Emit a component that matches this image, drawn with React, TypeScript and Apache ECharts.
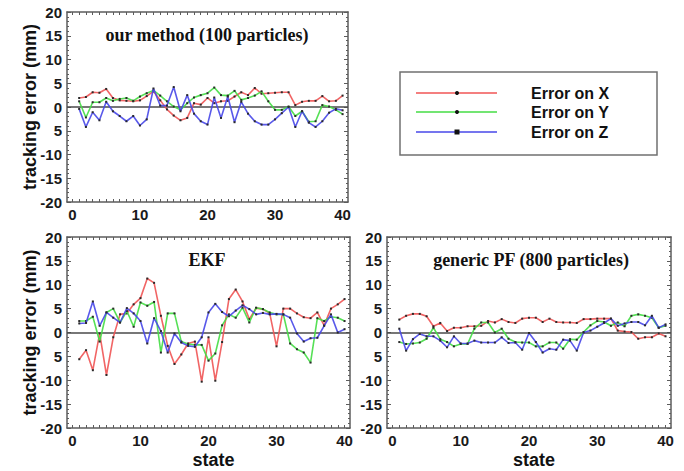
import React, { useEffect, useRef } from "react";
import * as echarts from "echarts";

// State indices along the horizontal axis
const STATES = [
  1, 2, 3, 4, 5, 6, 7, 8, 9, 10, 11, 12, 13, 14, 15, 16, 17, 18, 19, 20,
  21, 22, 23, 24, 25, 26, 27, 28, 29, 30, 31, 32, 33, 34, 35, 36, 37, 38, 39, 40,
];

const SERIES_NAMES = ["Error on X", "Error on Y", "Error on Z"];
const PANEL_TITLES = ["our method (100 particles)", "EKF", "generic PF (800 particles)"];
const X_LABEL_VALUES = [0, 10, 20, 30, 40];
const Y_AXIS_NAME = "tracking error (mm)";
const X_AXIS_NAME = "state";

// Tracking errors (mm), our method with 100 particles
const OURS_X = [
  1.9, 2.1, 3.1, 3.0, 3.8, 1.9, 1.4, 1.3, 1.2, 1.4,
  2.3, 3.3, 1.4, -0.5, -1.8, -2.8, -2.3, 0.8, 0.5, 1.9,
  0.8, 1.2, 1.3, 2.2, 3.1, 2.5, 4.0, 2.8, 2.9, 3.0,
  3.1, 3.1, 0.4, 1.1, 1.3, 1.3, 2.3, 1.2, 1.3, 2.4,
];
const OURS_Y = [
  1.2, -2.2, 1.0, 1.0, 1.9, 1.3, 1.7, 1.9, 1.3, 2.2,
  2.9, 3.5, 2.4, 1.2, 0.1, -0.6, 0.8, 2.0, 2.5, 2.9,
  4.1, 2.5, 2.4, 3.4, 1.5, 1.9, 2.4, 3.3, 1.2, -0.6,
  -0.6, 0.1, -1.9, -0.9, -3.1, -3.0, 0.4, 0.1, -0.6, -1.5,
];
const OURS_Z = [
  -0.4, -4.2, -1.1, -2.8, 1.1, -0.9, -1.9, -3.0, -1.9, -3.9,
  -2.6, 3.9, 0.3, 0.3, 4.2, -0.9, 2.5, -1.4, -3.0, -3.7,
  2.0, -2.3, 2.2, -3.2, 1.1, -1.4, -3.0, -3.7, -3.7, -2.6,
  -1.3, 0.0, -4.2, -0.9, -3.3, -4.2, -3.0, -1.2, -0.4, -0.7,
];

// Tracking errors (mm), EKF
const EKF_X = [
  -5.6, -3.7, -7.9, -0.2, -8.9, -1.0, 3.8, 4.0, 5.9, 7.2,
  11.3, 10.4, 3.5, -2.8, -6.6, -4.6, -2.3, -1.9, -10.3, -1.0,
  -10.1, -2.0, 7.0, 9.0, 6.5, 2.8, 5.1, 4.9, 4.0, -2.9,
  5.0, 5.0, 4.0, 3.2, 3.0, 4.2, 1.5, 5.0, 5.9, 7.0,
];
const EKF_Y = [
  2.4, 2.4, 3.3, -1.9, 4.2, 5.0, 2.1, 4.5, 1.2, 6.3,
  5.6, 6.4, -4.2, 4.0, 4.0, -1.9, -2.4, -2.6, -2.6, -5.9,
  -4.4, 1.5, 3.8, 3.1, 5.2, 2.1, 5.2, 4.9, 4.2, 3.8,
  3.8, -2.3, -3.5, -4.2, -6.3, 3.0, 2.4, 3.3, 3.1, 2.4,
];
const EKF_Z = [
  1.9, 2.0, 6.5, 1.4, 4.2, 3.1, 2.1, 5.1, 4.0, 2.4,
  -2.3, 3.0, 0.3, -4.2, -0.2, -2.1, -2.8, -3.0, -1.0, 4.2,
  6.0, 4.3, 3.4, 4.6, 5.7, 4.9, 3.8, 4.1, 3.8, 3.9,
  3.8, 3.1, -0.2, -1.9, -1.2, -1.1, 1.4, 3.8, 0.0, 0.7,
];

// Tracking errors (mm), generic PF with 800 particles
const PF_X = [
  2.7, 3.5, 3.9, 3.9, 3.4, 1.3, 2.0, 0.3, 1.0, 1.0,
  1.3, 1.3, 1.4, 2.4, 2.1, 2.8, 2.2, 2.0, 2.9, 3.1,
  3.1, 2.2, 2.9, 2.2, 2.1, 2.1, 2.0, 2.8, 2.8, 2.9,
  2.9, 2.9, 0.4, 0.2, 0.1, -1.3, -1.0, -1.0, -0.2, -0.8,
];
const PF_Y = [
  -2.0, -2.4, -2.3, -2.1, -1.3, 1.0, -1.4, -2.0, -2.9, -2.4,
  -2.4, 0.8, 2.1, 2.1, 0.0, 0.8, -1.3, -2.0, -2.1, -2.1,
  -2.9, -2.9, -2.1, -2.1, -3.4, -1.4, -1.5, 0.1, 1.5, 2.4,
  2.2, 1.4, 2.1, 1.3, 3.5, 3.8, 3.5, 3.1, 1.0, 1.4,
];
const PF_Z = [
  0.8, -3.8, -1.4, -0.3, -0.8, -0.8, -1.7, -3.1, -0.8, -2.3,
  -2.3, -1.7, -2.1, -2.1, -2.1, -1.0, -2.2, -2.1, -3.6, -0.1,
  -2.0, -4.2, -3.4, -3.6, -1.5, -1.7, -3.8, 0.0, 0.4, 1.2,
  2.0, 2.9, 1.4, 1.9, 2.2, 2.2, 1.5, 3.5, 1.0, 1.7,
];

const LINE_COLORS = ["#f05454", "#44dd44", "#4747e8"];
const FRAME = "#5c5c5c";
const SANS = "'Liberation Sans', Arial, sans-serif";
const SERIF = "'Liberation Serif', 'Times New Roman', serif";

const PANELS = [
  { grid: { left: 67, top: 12, width: 281, height: 190 }, title: PANEL_TITLES[0], titlePos: [207, 35], data: [OURS_X, OURS_Y, OURS_Z], yName: true, xName: false },
  { grid: { left: 67, top: 237, width: 283, height: 191 }, title: PANEL_TITLES[1], titlePos: [207, 260], data: [EKF_X, EKF_Y, EKF_Z], yName: true, xName: true },
  { grid: { left: 387, top: 237, width: 284, height: 191 }, title: PANEL_TITLES[2], titlePos: [531, 260], data: [PF_X, PF_Y, PF_Z], yName: false, xName: true },
];

const X_MIN = -0.8;
const X_MAX = 40.8;
const X_TICKS = [0, ...STATES];

function yLabel(v: number): string {
  return v === -5 ? "5" : String(v);
}

function buildOption() {
  const grid: any[] = [];
  const xAxis: any[] = [];
  const yAxis: any[] = [];
  const series: any[] = [];
  const graphic: any[] = [];

  PANELS.forEach((p, g) => {
    grid.push({ ...p.grid, show: false });
    const tickStyle = { color: FRAME, width: 1 };
    const lineStyle = { color: FRAME, width: 1.5 };
    xAxis.push({
      type: "value", gridIndex: g, position: "bottom", min: X_MIN, max: X_MAX,
      axisLine: { show: true, onZero: false, lineStyle },
      axisTick: { show: true, inside: true, length: 3, customValues: X_TICKS, lineStyle: tickStyle },
      axisLabel: { show: true, customValues: X_LABEL_VALUES, margin: 5, fontSize: 15, fontWeight: "bold", fontFamily: SANS, color: "#1a1a1a" },
      splitLine: { show: false },
    });
    xAxis.push({
      type: "value", gridIndex: g, position: "top", min: X_MIN, max: X_MAX,
      axisLine: { show: true, onZero: false, lineStyle },
      axisTick: { show: true, inside: true, length: 3, customValues: X_TICKS, lineStyle: tickStyle },
      axisLabel: { show: false },
      splitLine: { show: false },
    });
    yAxis.push({
      type: "value", gridIndex: g, position: "left", min: -20, max: 20, interval: 5,
      axisLine: { show: true, onZero: false, lineStyle },
      axisTick: { show: true, inside: true, length: 4, lineStyle: tickStyle },
      minorTick: { show: true, splitNumber: 5, length: 2, lineStyle: tickStyle },
      axisLabel: { show: true, margin: 5, fontSize: 15, fontWeight: "bold", fontFamily: SANS, color: "#1a1a1a", formatter: yLabel },
      splitLine: { show: false },
    });
    yAxis.push({
      type: "value", gridIndex: g, position: "right", min: -20, max: 20, interval: 5,
      axisLine: { show: true, onZero: false, lineStyle },
      axisTick: { show: true, inside: true, length: 4, lineStyle: tickStyle },
      minorTick: { show: true, splitNumber: 5, length: 2, lineStyle: tickStyle },
      axisLabel: { show: false },
      splitLine: { show: false },
    });

    p.data.forEach((vals, k) => {
      const s: any = {
        type: "line",
        name: SERIES_NAMES[k],
        xAxisIndex: g * 2,
        yAxisIndex: g * 2,
        data: STATES.map((st, i) => [st, vals[i]]),
        symbol: "rect",
        symbolSize: 2,
        showSymbol: true,
        itemStyle: { color: "#2a2a2a" },
        lineStyle: { color: LINE_COLORS[k], width: 1.6, opacity: 0.9 },
        z: 2 + k,
      };
      if (k === 0) {
        s.markLine = {
          silent: true,
          symbol: "none",
          label: { show: false },
          lineStyle: { color: "#4a4a4a", width: 1.5, type: "solid" },
          data: [{ yAxis: 0 }],
          z: 1,
        };
      }
      series.push(s);
    });

    graphic.push({
      type: "text", x: p.titlePos[0], y: p.titlePos[1],
      style: {
        text: p.title, fill: "#111", fontSize: 18, fontWeight: "bold", fontFamily: SERIF,
        align: "center", verticalAlign: "middle", textAlign: "center", textVerticalAlign: "middle",
      },
    });
    if (p.yName) {
      graphic.push({
        type: "text", x: 30, y: p.grid.top + p.grid.height / 2, rotation: Math.PI / 2,
        style: {
          text: Y_AXIS_NAME, fill: "#111", fontSize: 18, fontWeight: "bold", fontFamily: SANS,
          align: "center", verticalAlign: "middle", textAlign: "center", textVerticalAlign: "middle",
        },
      });
    }
    if (p.xName) {
      graphic.push({
        type: "text", x: p.grid.left + p.grid.width / 2 + 5, y: 460,
        style: {
          text: X_AXIS_NAME, fill: "#111", fontSize: 18, fontWeight: "bold", fontFamily: SANS,
          align: "center", verticalAlign: "middle", textAlign: "center", textVerticalAlign: "middle",
        },
      });
    }
  });

  // Legend box
  const box = { x: 400, y: 72, w: 257, h: 83 };
  graphic.push({
    type: "rect",
    shape: { x: box.x, y: box.y, width: box.w, height: box.h },
    style: { fill: "#fff", stroke: "#707070", lineWidth: 1.5 },
  });
  const rows = [93, 112, 132];
  SERIES_NAMES.forEach((name, k) => {
    const y = rows[k];
    graphic.push({
      type: "line",
      shape: { x1: 416, y1: y, x2: 497, y2: y },
      style: { stroke: LINE_COLORS[k], lineWidth: 1.5 },
    });
    if (k < 2) {
      graphic.push({ type: "circle", shape: { cx: 457, cy: y, r: 2 }, style: { fill: "#111" } });
    } else {
      graphic.push({ type: "rect", shape: { x: 454.5, y: y - 2.5, width: 5, height: 5 }, style: { fill: "#111" } });
    }
    graphic.push({
      type: "text", x: 531, y,
      style: {
        text: name, fill: "#111", fontSize: 16, fontWeight: "bold", fontFamily: SANS,
        align: "left", verticalAlign: "middle", textAlign: "left", textVerticalAlign: "middle",
      },
    });
  });

  return {
    animation: false,
    backgroundColor: "#ffffff",
    grid,
    xAxis,
    yAxis,
    series,
    graphic,
  };
}

export default function App() {
  const ref = useRef<HTMLDivElement>(null);

  useEffect(() => {
    document.body.style.margin = "0";
    if (!ref.current) return;
    const chart = echarts.init(ref.current, undefined, { renderer: "svg" });
    chart.setOption(buildOption() as any);
    return () => chart.dispose();
  }, []);

  return (
    <div
      ref={ref}
      style={{ position: "fixed", left: 0, top: 0, width: 684, height: 471, background: "#fff" }}
    />
  );
}
